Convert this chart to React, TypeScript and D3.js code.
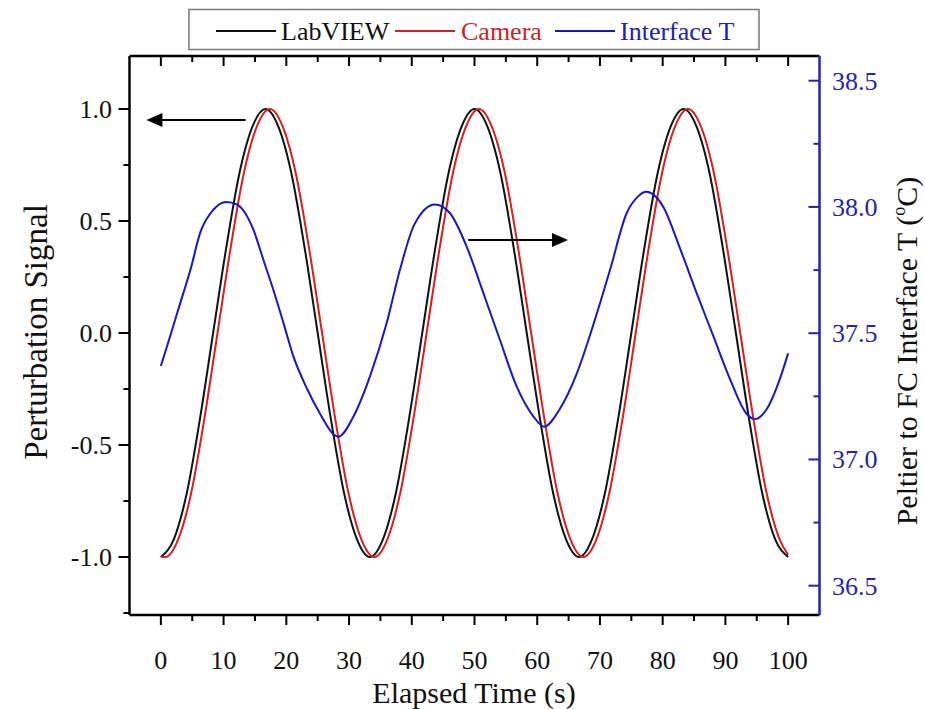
import React from 'react';
import * as d3 from 'd3';

// LabVIEW perturbation signal (s, -)
const timeLabVIEW = [0, 2.08, 4.17, 6.25, 8.33, 10.42, 12.5, 14.58, 16.67, 18.75, 20.83, 22.92, 25, 27.08, 29.17, 31.25, 33.33, 35.42, 37.5, 39.58, 41.67, 43.75, 45.83, 47.92, 50, 52.08, 54.17, 56.25, 58.33, 60.42, 62.5, 64.58, 66.67, 68.75, 70.83, 72.92, 75, 77.08, 79.17, 81.25, 83.33, 85.42, 87.5, 89.58, 91.67, 93.75, 95.83, 97.92, 100];
const signalLabVIEW = [-1, -0.92, -0.71, -0.38, 0, 0.38, 0.71, 0.92, 1, 0.92, 0.71, 0.38, 0, -0.38, -0.71, -0.92, -1, -0.92, -0.71, -0.38, 0, 0.38, 0.71, 0.92, 1, 0.92, 0.71, 0.38, 0, -0.38, -0.71, -0.92, -1, -0.92, -0.71, -0.38, 0, 0.38, 0.71, 0.92, 1, 0.92, 0.71, 0.38, 0, -0.38, -0.71, -0.92, -1];

// Camera perturbation signal (s, -)
const timeCamera = [0, 0.7, 2.78, 4.87, 6.95, 9.03, 11.12, 13.2, 15.28, 17.37, 19.45, 21.53, 23.62, 25.7, 27.78, 29.87, 31.95, 34.03, 36.12, 38.2, 40.28, 42.37, 44.45, 46.53, 48.62, 50.7, 52.78, 54.87, 56.95, 59.03, 61.12, 63.2, 65.28, 67.37, 69.45, 71.53, 73.62, 75.7, 77.78, 79.87, 81.95, 84.03, 86.12, 88.2, 90.28, 92.37, 94.45, 96.53, 98.62, 100];
const signalCamera = [-1, -1, -0.92, -0.71, -0.38, 0, 0.38, 0.71, 0.92, 1, 0.92, 0.71, 0.38, 0, -0.38, -0.71, -0.92, -1, -0.92, -0.71, -0.38, 0, 0.38, 0.71, 0.92, 1, 0.92, 0.71, 0.38, 0, -0.38, -0.71, -0.92, -1, -0.92, -0.71, -0.38, 0, 0.38, 0.71, 0.92, 1, 0.92, 0.71, 0.38, 0, -0.38, -0.71, -0.92, -0.99];

// Peltier to FC interface temperature (s, °C)
const timeInterface = [0, 1.5, 3.1, 4.7, 6.3, 8.4, 10.4, 12.1, 14.75, 16.35, 17.95, 19.55, 21.1, 23.3, 25.4, 27.5, 28.3, 30.7, 33.35, 36.0, 38.1, 40.4, 43.7, 46.1, 48.8, 51.4, 54.1, 56.7, 59.4, 61.1, 63.6, 66.3, 68.9, 71.6, 74.25, 76.0, 77.4, 80.1, 82.7, 85.4, 88.05, 90.7, 93.4, 94.7, 96.6, 98.7, 100];
const tempInterface = [37.37, 37.49, 37.62, 37.75, 37.9, 37.99, 38.02, 38.01, 37.91, 37.79, 37.67, 37.54, 37.41, 37.28, 37.18, 37.1, 37.09, 37.17, 37.33, 37.54, 37.75, 37.93, 38.01, 37.975, 37.84, 37.66, 37.47, 37.29, 37.17, 37.13, 37.2, 37.34, 37.53, 37.75, 37.975, 38.04, 38.06, 38.0, 37.84, 37.66, 37.49, 37.32, 37.18, 37.16, 37.2, 37.32, 37.42];

const xTicks = [0, 10, 20, 30, 40, 50, 60, 70, 80, 90, 100];
const xMinorTicks = [5, 15, 25, 35, 45, 55, 65, 75, 85, 95];
const yLeftTicks = [-1, -0.5, 0, 0.5, 1];
const yLeftMinor = [-1.25, -0.75, -0.25, 0.25, 0.75];
const yRightTicks = [36.5, 37, 37.5, 38, 38.5];
const yRightMinor = [36.75, 37.25, 37.75, 38.25];

const seriesNames = ['LabVIEW', 'Camera', 'Interface T'];

const FONT = "'Liberation Serif', 'Times New Roman', serif";
const BLACK = '#111';
const RED = '#dd1c1c';
const BLUE = '#1717c8';
const BLUE_AX = '#2323b0';

export default function App() {
  const left = 129.5, right = 819.5, top = 56, bottom = 615;
  const x = d3.scaleLinear().domain([-5, 105]).range([left, right]);
  const yL = d3.scaleLinear().domain([-1, 1]).range([557, 109]);
  const yR = d3.scaleLinear().domain([36.5, 38.5]).range([585.7, 80.7]);

  const lineL = d3.line<[number, number]>().x(d => x(d[0])).y(d => yL(d[1])).curve(d3.curveMonotoneX);
  const lineR = d3.line<[number, number]>().x(d => x(d[0])).y(d => yR(d[1])).curve(d3.curveMonotoneX);

  const dLab = lineL(timeLabVIEW.map((t, i) => [t, signalLabVIEW[i]] as [number, number])) || '';
  const dCam = lineL(timeCamera.map((t, i) => [t, signalCamera[i]] as [number, number])) || '';
  const dInt = lineR(timeInterface.map((t, i) => [t, tempInterface[i]] as [number, number])) || '';

  // annotation arrows (data coords)
  const arrowL = { x1: 13.5, x2: -2.3, y: 0.951 };
  const arrowR = { x1: 49.0, x2: 64.9, y: 0.415 };

  const ax1 = x(arrowL.x1), ax2 = x(arrowL.x2), ay = yL(arrowL.y);
  const bx1 = x(arrowR.x1), bx2 = x(arrowR.x2), by = yL(arrowR.y);

  const legendItems = [
    { name: seriesNames[0], color: BLACK, textColor: BLACK, lx: 216, tx: 281 },
    { name: seriesNames[1], color: RED, textColor: '#d02020', lx: 395, tx: 461 },
    { name: seriesNames[2], color: BLUE, textColor: '#2020b8', lx: 555, tx: 620 },
  ];

  return (
    <svg width={925} height={709} style={{ position: 'absolute', left: 0, top: 0, display: 'block' }} fontFamily={FONT}>
      <rect x={0} y={0} width={925} height={709} fill="#fff" />
      {/* legend */}
      <rect x={189} y={9.5} width={570} height={40} fill="#fff" stroke="#777" strokeWidth={1.5} />
      {legendItems.map(it => (
        <g key={it.name}>
          <line x1={it.lx} x2={it.lx + 60} y1={31} y2={31} stroke={it.color} strokeWidth={2} />
          <text x={it.tx} y={40} fontSize={26} fill={it.textColor}>{it.name}</text>
        </g>
      ))}

      {/* series */}
      <path d={dLab} fill="none" stroke={BLACK} strokeWidth={2} />
      <path d={dCam} fill="none" stroke={RED} strokeWidth={2} />
      <path d={dInt} fill="none" stroke={BLUE} strokeWidth={2} />

      {/* arrows */}
      <line x1={ax1} x2={ax2 + 14} y1={ay} y2={ay} stroke="#000" strokeWidth={2} />
      <polygon points={`${ax2},${ay} ${ax2 + 16},${ay - 7} ${ax2 + 16},${ay + 7}`} fill="#000" />
      <line x1={bx1} x2={bx2 - 14} y1={by} y2={by} stroke="#000" strokeWidth={2} />
      <polygon points={`${bx2},${by} ${bx2 - 16},${by - 7} ${bx2 - 16},${by + 7}`} fill="#000" />

      {/* frame */}
      <line x1={left} x2={right} y1={top} y2={top} stroke="#000" strokeWidth={2.5} />
      <line x1={left} x2={right} y1={bottom} y2={bottom} stroke="#000" strokeWidth={2.5} />
      <line x1={left} x2={left} y1={top} y2={bottom} stroke="#000" strokeWidth={2.5} />
      <line x1={right} x2={right} y1={top} y2={bottom} stroke={BLUE_AX} strokeWidth={2.5} />

      {/* bottom / top axis ticks */}
      {xTicks.map(t => (
        <g key={'xb' + t}>
          <line x1={x(t)} x2={x(t)} y1={bottom} y2={bottom + 10} stroke="#000" strokeWidth={2} />
          <line x1={x(t)} x2={x(t)} y1={top} y2={top + 10} stroke="#000" strokeWidth={2} />
          <text x={x(t)} y={669} fontSize={26} textAnchor="middle" fill="#111">{t}</text>
        </g>
      ))}
      {xMinorTicks.map(t => (
        <g key={'xm' + t}>
          <line x1={x(t)} x2={x(t)} y1={bottom} y2={bottom + 6} stroke="#000" strokeWidth={2} />
          <line x1={x(t)} x2={x(t)} y1={top} y2={top + 6} stroke="#000" strokeWidth={2} />
        </g>
      ))}

      {/* left axis ticks */}
      {yLeftTicks.map(v => (
        <g key={'yl' + v}>
          <line x1={left - 11} x2={left} y1={yL(v)} y2={yL(v)} stroke="#000" strokeWidth={2} />
          <text x={112} y={yL(v) + 9} fontSize={26} textAnchor="end" fill="#111">{v.toFixed(1)}</text>
        </g>
      ))}
      {yLeftMinor.map(v => (
        <line key={'ylm' + v} x1={left - 6} x2={left} y1={yL(v)} y2={yL(v)} stroke="#000" strokeWidth={2} />
      ))}

      {/* right axis ticks */}
      {yRightTicks.map(v => (
        <g key={'yr' + v}>
          <line x1={right - 11} x2={right} y1={yR(v)} y2={yR(v)} stroke={BLUE_AX} strokeWidth={2} />
          <text x={832} y={yR(v) + 9} fontSize={26} fill={BLUE_AX}>{v.toFixed(1)}</text>
        </g>
      ))}
      {yRightMinor.map(v => (
        <line key={'yrm' + v} x1={right - 6} x2={right} y1={yR(v)} y2={yR(v)} stroke={BLUE_AX} strokeWidth={2} />
      ))}

      {/* axis titles */}
      <text x={474} y={703} fontSize={30} textAnchor="middle" fill="#111">Elapsed Time (s)</text>
      <text transform="translate(47,332) rotate(-90)" fontSize={33} textAnchor="middle" fill="#111">Perturbation Signal</text>
      <text transform="translate(917,351) rotate(-90)" fontSize={30} textAnchor="middle" fill="#111">
        Peltier to FC Interface T (<tspan fontSize={18} dy={-12}>o</tspan><tspan dy={12}>C)</tspan>
      </text>
    </svg>
  );
}
